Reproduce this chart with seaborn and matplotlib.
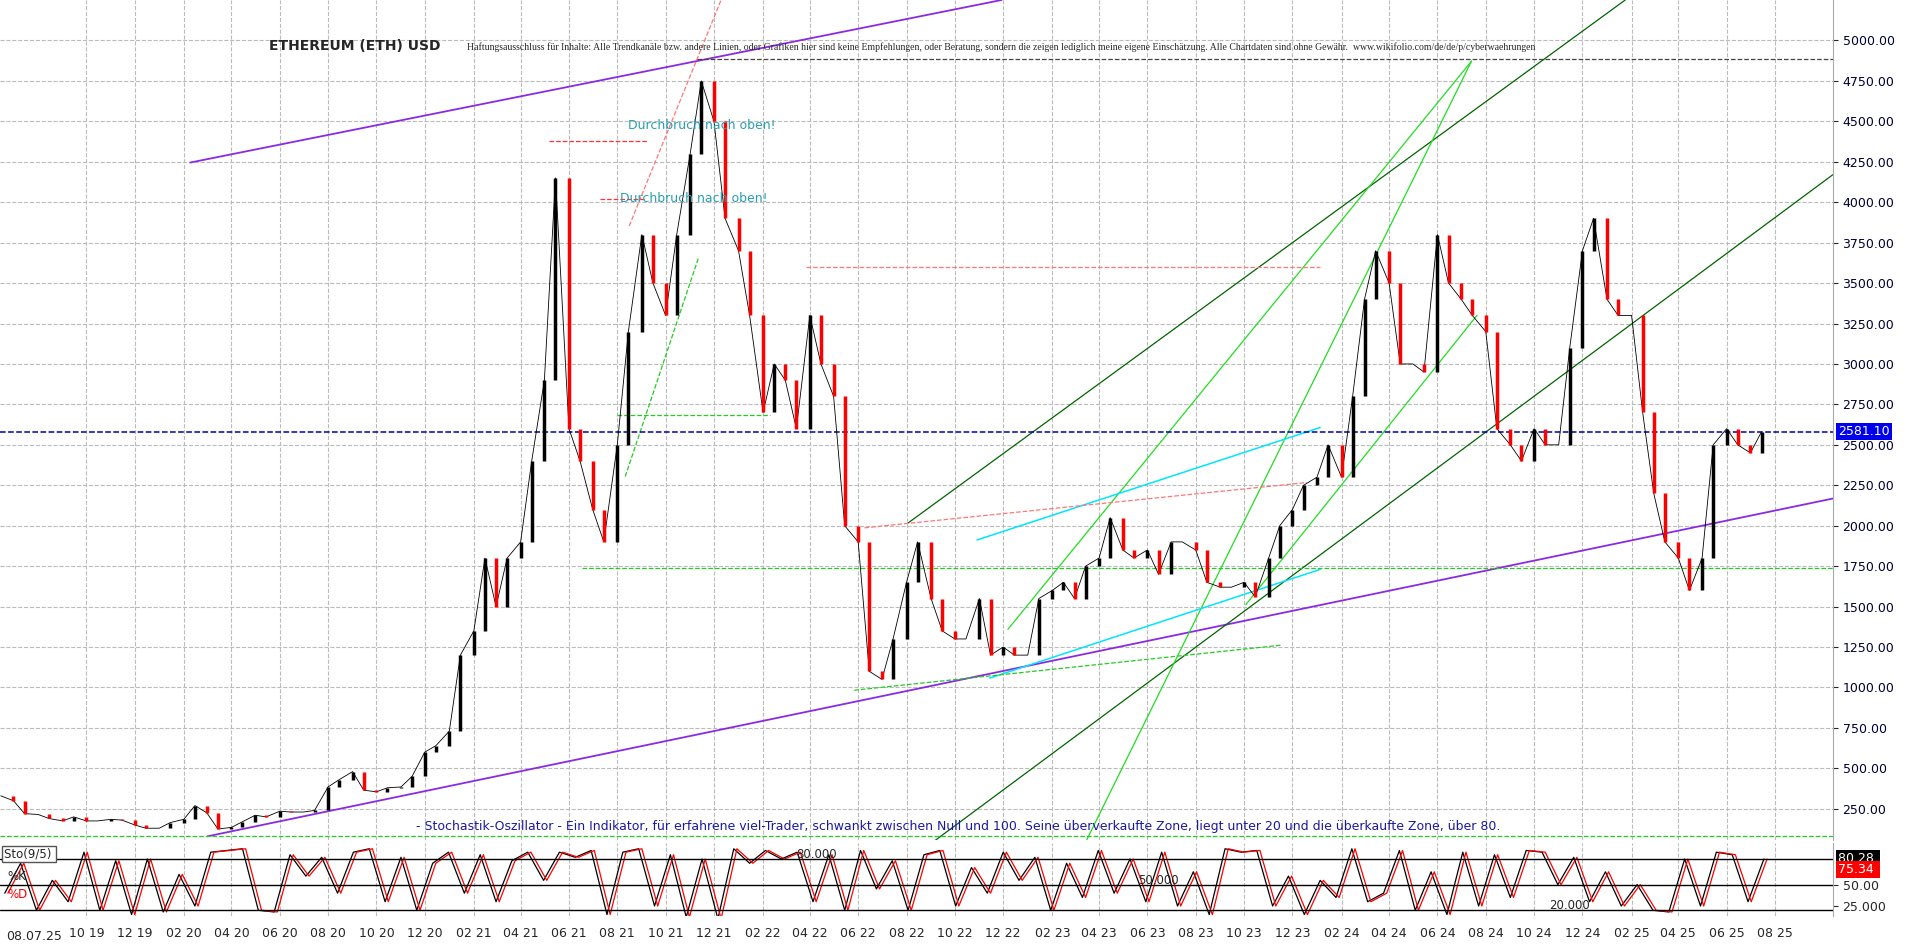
import pandas as pd
import numpy as np
import matplotlib.pyplot as plt
import seaborn as sns

sns.set_style('white')

# semi-monthly closes
close_dates = pd.date_range('2019-06-15', '2025-07-15', freq='SMS')
closes = [330, 300, 220, 215, 190, 175, 200, 175, 175, 185, 180, 150, 130,
          130, 165, 185, 270, 225, 125, 135, 170, 210, 200, 235, 230, 230, 240, 385, 430, 480, 365, 355, 380, 385, 450, 600, 640,
          730, 1200, 1350, 1800, 1500, 1800, 1900, 2400, 2900, 4150, 2600, 2400, 2100, 1900, 2500, 3200, 3800, 3500, 3300, 3800, 4300, 4750, 4500, 3900,
          3700, 3300, 2700, 3000, 2900, 2600, 3300, 3000, 2800, 2000, 1900, 1100, 1050, 1300, 1650, 1900, 1550, 1350, 1300, 1300, 1550, 1200, 1250, 1200,
          1200, 1550, 1600, 1650, 1550, 1750, 1800, 2050, 1850, 1800, 1850, 1700, 1900, 1900, 1850, 1650, 1620, 1620, 1650, 1560, 1800, 2000, 2100, 2250,
          2300, 2500, 2300, 2800, 3400, 3700, 3500, 3000, 3000, 2950, 3800, 3500, 3400, 3300, 3200, 2600, 2500, 2400, 2600, 2500, 2500, 3100, 3700, 3900,
          3400, 3300, 3300, 2700, 2200, 1900, 1800, 1600, 1800, 2500, 2600, 2500, 2450, 2581]
n = min(len(close_dates), len(closes))
price = pd.DataFrame({'date': close_dates[:n], 'close': closes[:n]})

# stochastic %K, every 20 days (%D drawn as the same curve lagging a few days)
sto_k = [40, 75, 20, 55, 30, 88, 20, 78, 15, 80, 18, 62, 25, 88, 90, 92, 20, 18, 85, 60, 82, 40, 88, 92, 30, 82, 20, 75,
         88, 40, 85, 30, 78, 88, 55, 88, 82, 90, 15, 88, 92, 25, 85, 12, 80, 10, 92, 75, 90, 80, 88, 30, 85, 20, 90, 45,
         78, 20, 85, 90, 25, 70, 40, 88, 55, 82, 20, 75, 35, 90, 40, 80, 30, 88, 25, 65, 15, 92, 88, 90, 25, 60, 15, 55,
         35, 92, 30, 40, 90, 20, 65, 15, 88, 25, 85, 35, 90, 88, 50, 82, 30, 65, 25, 50, 20, 18, 80, 25, 88, 85, 30, 80]
sto_dates = pd.date_range('2019-06-20', periods=len(sto_k), freq='20D')
sto = pd.DataFrame({'date': sto_dates, 'k': sto_k})
sto_d = pd.DataFrame({'date': sto_dates + pd.Timedelta(days=4), 'd': sto_k})

# trend lines: (start date, start price, end date, end price, color, style, width)
trend_lines = [
    ('2020-02-09', 4245, '2022-11-29', 5250, '#8a2be2', '-', 1.3),
    ('2020-03-02', 80, '2025-10-13', 2168, '#8a2be2', '-', 1.3),
    ('2022-08-03', 2017, '2025-01-24', 5250, '#006400', '-', 0.9),
    ('2022-09-06', 54, '2025-10-13', 4170, '#006400', '-', 0.9),
    ('2023-03-16', 54, '2024-07-14', 4872, '#22dd22', '-', 0.9),
    ('2022-12-07', 1360, '2024-07-14', 4872, '#22dd22', '-', 0.9),
    ('2023-10-03', 1511, '2024-07-21', 3301, '#22dd22', '-', 0.9),
    ('2022-10-29', 1912, '2024-01-05', 2607, '#00e5ff', '-', 1.1),
    ('2022-11-14', 1058, '2024-01-05', 1730, '#00e5ff', '-', 1.1),
    ('2022-05-27', 983, '2023-11-18', 1262, '#22cc22', '--', 0.9),
    ('2022-06-09', 1987, '2023-12-19', 2267, '#ff7777', '--', 0.9),
    ('2021-08-16', 3853, '2021-12-10', 5250, '#ff7777', '--', 0.9),
    ('2021-08-11', 2304, '2021-11-12', 3664, '#22cc22', '--', 0.9),
    ('2022-03-27', 3600, '2024-01-05', 3600, '#ff7777', '--', 0.9),
    ('2021-05-07', 4380, '2021-09-09', 4380, '#ff3333', '--', 0.9),
    ('2021-07-10', 4020, '2021-09-04', 4020, '#ff3333', '--', 0.9),
    ('2021-11-10', 4887, '2025-10-13', 4887, '#444444', '--', 0.9),
    ('2021-06-17', 1740, '2025-10-13', 1740, '#22cc22', '--', 0.9),
    ('2021-08-01', 2682, '2022-02-10', 2682, '#22cc22', '--', 0.9),
    ('2019-06-14', 84, '2025-10-13', 84, '#22cc22', '--', 0.9),
    ('2019-06-14', 2581, '2025-10-13', 2581, '#0000aa', '--', 1.1),
]

price_ticks = list(range(250, 5001, 250))
x_start, x_end = pd.Timestamp('2019-06-14'), pd.Timestamp('2025-10-13')

fig = plt.figure(figsize=(19.16, 9.48), dpi=100)
ax = fig.add_axes([0.0, 0.1134, 0.9566, 0.8866])
ax2 = fig.add_axes([0.0, 0.0335, 0.9566, 0.0775], sharex=ax)

# candles
prev = [closes[0]] + closes[:-1]
for dt, o, c in zip(price['date'], prev, price['close']):
    col = 'black' if c >= o else 'red'
    ax.vlines(dt, min(o, c), max(o, c), color=col, lw=2.5, zorder=3)
sns.lineplot(data=price, x='date', y='close', ax=ax, color='black', lw=0.6, zorder=2)

for d0, p0, d1, p1, col, ls, w in trend_lines:
    ax.plot([pd.Timestamp(d0), pd.Timestamp(d1)], [p0, p1], color=col, ls=ls, lw=w, zorder=1)

ax.set_xlim(x_start, x_end)
ax.set_ylim(54, 5250)
ax.yaxis.tick_right()
ax.set_yticks(price_ticks)
ax.set_yticklabels([f'{v:.2f}' for v in price_ticks], fontsize=9, color='#000033')
ax.set_xlabel('')
ax.set_ylabel('')
month_ticks = pd.date_range('2019-10-01', '2025-08-01', freq='2MS')
ax.set_xticks(month_ticks)
ax.tick_params(axis='x', labelbottom=False, length=0)
ax.grid(True, ls='--', color='#bbbbbb', lw=0.8)
for s in ['top', 'left', 'bottom']:
    ax.spines[s].set_visible(False)
ax.spines['right'].set_color('#aaaaaa')

ax.text(0.147, 0.94, 'ETHEREUM (ETH) USD', transform=ax.transAxes, fontsize=10, fontweight='bold')
ax.text(0.255, 0.94, 'Haftungsausschluss für Inhalte: Alle Trendkanäle bzw. andere Linien, oder Grafiken hier sind keine Empfehlungen, oder Beratung, '
        'sondern die zeigen lediglich meine eigene Einschätzung. Alle Chartdaten sind ohne Gewähr.  www.wikifolio.com/de/de/p/cyberwaehrungen',
        transform=ax.transAxes, fontsize=7, family='Liberation Serif')
ax.text(pd.Timestamp('2021-08-15'), 4450, 'Durchbruch nach oben!', color='#2a9fb0', fontsize=9)
ax.text(pd.Timestamp('2021-08-05'), 4000, 'Durchbruch nach oben!', color='#2a9fb0', fontsize=9)
ax.text(pd.Timestamp('2020-11-20'), 120, '- Stochastik-Oszillator - Ein Indikator, für erfahrene viel-Trader, schwankt zwischen Null und 100. '
        'Seine überverkaufte Zone, liegt unter 20 und die überkaufte Zone, über 80.', color='#1a1aa0', fontsize=9)
ax.text(1.003, 2581, '2581.10', transform=ax.get_yaxis_transform(), fontsize=9, color='white', va='center',
        bbox=dict(facecolor='#0000ee', edgecolor='none', pad=1.5))

# stochastic panel
sns.lineplot(data=sto, x='date', y='k', ax=ax2, color='black', lw=0.9)
sns.lineplot(data=sto_d, x='date', y='d', ax=ax2, color='red', lw=0.9)
for lvl in [80, 50, 20]:
    ax2.axhline(lvl, color='black', lw=1)
ax2.set_ylim(13, 99)
ax2.set_yticks([50, 25])
ax2.yaxis.tick_right()
ax2.set_yticklabels(['50.00', '25.000'], fontsize=9)
ax2.set_xticks(month_ticks)
ax2.set_xticklabels([f'{d.month:02d} {d.year % 100:02d}' for d in month_ticks], fontsize=9)
ax2.tick_params(axis='x', length=0, pad=8)
ax2.grid(True, axis='x', ls='--', color='#bbbbbb', lw=0.8)
ax2.set_xlabel('')
ax2.set_ylabel('')
for s in ['top', 'left', 'bottom']:
    ax2.spines[s].set_visible(False)
ax2.spines['right'].set_color('#aaaaaa')
ax2.set_xlim(x_start, x_end)
ax2.text(0.002, 0.80, 'Sto(9/5) ', transform=ax2.transAxes, fontsize=8.5,
         bbox=dict(facecolor='white', edgecolor='#555555', pad=1))
ax2.text(0.004, 0.50, '%K', transform=ax2.transAxes, fontsize=8.5, zorder=5)
ax2.text(0.004, 0.25, '%D', transform=ax2.transAxes, fontsize=8.5, color='red', zorder=5)
ax2.text(pd.Timestamp('2022-03-15'), 81, '80.000', fontsize=8.5)
ax2.text(pd.Timestamp('2023-05-20'), 51, '50.000', fontsize=8.5)
ax2.text(pd.Timestamp('2024-10-20'), 21, '20.000', fontsize=8.5)
ax2.text(1.003, 80.28, '80.28 ', transform=ax2.get_yaxis_transform(), fontsize=9, color='white', va='center',
         bbox=dict(facecolor='black', edgecolor='none', pad=1.5))
ax2.text(1.003, 68, '75.34 ', transform=ax2.get_yaxis_transform(), fontsize=9, color='white', va='center',
         bbox=dict(facecolor='red', edgecolor='none', pad=1.5))
fig.text(0.003, 0.008, '08.07.25', fontsize=9)

fig.savefig('out.png', dpi=100, facecolor='white')
